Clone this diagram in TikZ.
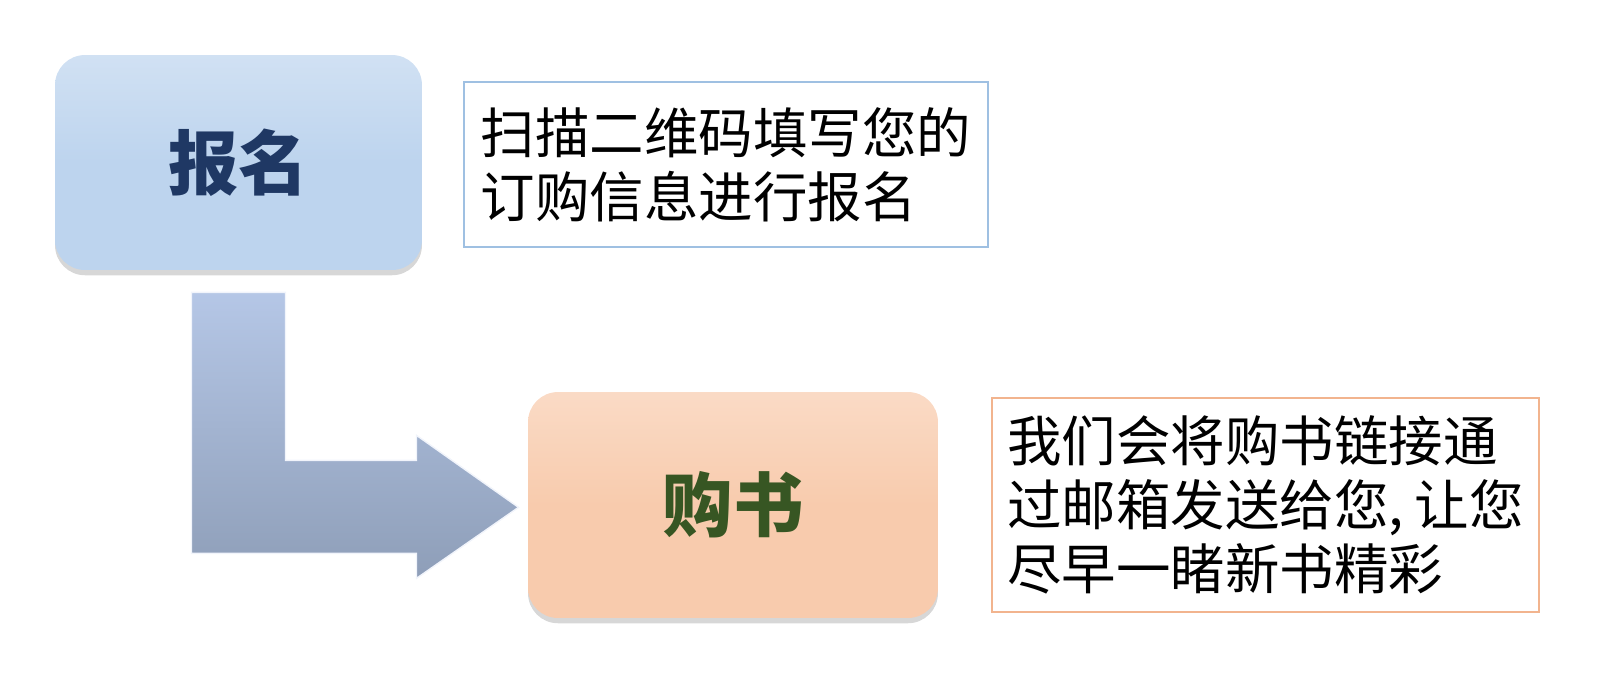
\documentclass[tikz,border=0pt]{standalone}
\usepackage{fontspec}
\newfontfamily\cjk{Noto Sans CJK SC}
\usetikzlibrary{shadows}
\definecolor{signupfill}{HTML}{BDD4EE}
\definecolor{signuptext}{HTML}{1F3864}
\definecolor{signupline}{HTML}{9FC0E2}
\definecolor{buyfill}{HTML}{F8CBAD}
\definecolor{buytext}{HTML}{375623}
\definecolor{buyline}{HTML}{F2B48E}
\definecolor{arrowtop}{HTML}{B8CAEA}
\definecolor{arrowbottom}{HTML}{8E9EB8}

\begin{document}
\begin{tikzpicture}[x=0.02cm,y=-0.02cm,
    stepbox/.style={rounded corners=0.6cm, inner sep=0pt,
      font=\cjk\bfseries\fontsize{40}{44}\selectfont,
      drop shadow={shadow xshift=0pt, shadow yshift=-3pt, opacity=0.35, fill=black!45}},
    notebox/.style={draw, line width=1.6pt, inner sep=0pt, align=left,
      font=\cjk\fontsize{31}{36.5}\selectfont}]
  \useasboundingbox (0,0) rectangle (1600,694);
  \node[stepbox, top color=signupfill!70!white, bottom color=signupfill, middle color=signupfill,
    text=signuptext, minimum width=7.34cm, minimum height=4.3cm] (signup) at (238.5,162.5) {报名};
  \node[notebox, draw=signupline, minimum width=10.48cm, minimum height=3.3cm] (signupnote) at (726,164.5)
    {扫描二维码填写您的\\订购信息进行报名};
  \node[stepbox, top color=buyfill!70!white, bottom color=buyfill, middle color=buyfill,
    text=buytext, minimum width=8.2cm, minimum height=4.52cm] (buy) at (733,505) {购书};
  \node[notebox, draw=buyline, minimum width=10.94cm, minimum height=4.28cm] (buynote) at (1265.5,505)
    {我们会将购书链接通\\过邮箱发送给您,\hspace{0.2em}让您\\尽早一睹新书精彩};
  \draw[top color=arrowtop, bottom color=arrowbottom, draw=white!80!arrowtop, line width=0.8pt]
    (signup.south) ++(-47,22) -- ++(94,0) -- ++(0,168) -- ++(131,0) -- ++(0,-25)
    -- ++(102,72) -- ++(-102,71) -- ++(0,-25) -- ++(-225,0) -- cycle;
\end{tikzpicture}
\end{document}
